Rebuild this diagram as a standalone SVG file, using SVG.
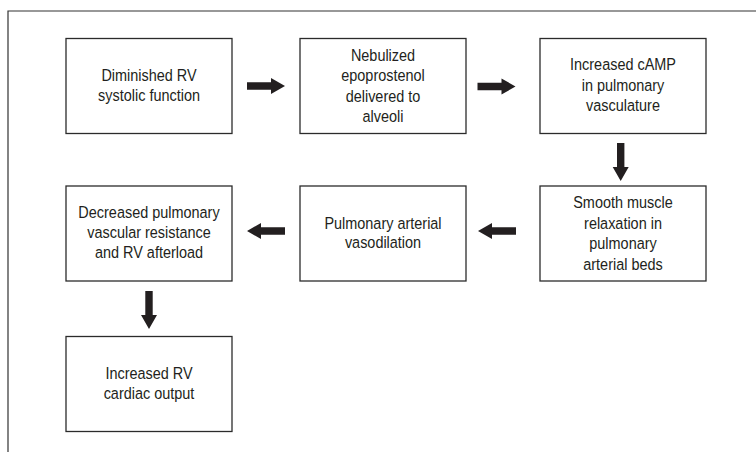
<svg xmlns="http://www.w3.org/2000/svg" width="756" height="452" viewBox="0 0 756 452">
<defs>
<style>
.box{fill:#fff;stroke:#2b2b2b;stroke-width:1.3}
.frame{fill:none;stroke:#333;stroke-width:1.2}
.t{font-family:"Liberation Sans",Arial,sans-serif;font-size:17px;fill:#231f20;text-anchor:middle}
.arr{fill:#231f20}
</style>
<path id="arrow" d="M0,-3.7 L24,-3.7 L24,-8 L38,0 L24,8 L24,3.7 L0,3.7 Z"/>
</defs>
<rect width="756" height="452" fill="#fff"/>
<path class="frame" d="M756,11 L8,11 L8,452"/>
<g id="n1"><rect class="box" x="66" y="38.5" width="166" height="95"/>
<text class="t" transform="translate(149,0) scale(0.85,1)"><tspan x="0" y="81.5">Diminished RV</tspan><tspan x="0" y="101">systolic function</tspan></text></g>
<g id="n2"><rect class="box" x="300" y="38.5" width="166" height="95"/>
<text class="t" transform="translate(383,0) scale(0.85,1)"><tspan x="0" y="60.8">Nebulized</tspan><tspan x="0" y="81.3">epoprostenol</tspan><tspan x="0" y="101.8">delivered to</tspan><tspan x="0" y="122.3">alveoli</tspan></text></g>
<g id="n3"><rect class="box" x="540" y="38.5" width="166" height="95"/>
<text class="t" transform="translate(623,0) scale(0.85,1)"><tspan x="0" y="70.3">Increased cAMP</tspan><tspan x="0" y="90.8">in pulmonary</tspan><tspan x="0" y="111.3">vasculature</tspan></text></g>
<g id="n4"><rect class="box" x="540" y="186" width="166" height="95"/>
<text class="t" transform="translate(623,0) scale(0.85,1)"><tspan x="0" y="208.5">Smooth muscle</tspan><tspan x="0" y="229">relaxation in</tspan><tspan x="0" y="249.5">pulmonary</tspan><tspan x="0" y="270">arterial beds</tspan></text></g>
<g id="n5"><rect class="box" x="300" y="186" width="166" height="95"/>
<text class="t" transform="translate(383,0) scale(0.85,1)"><tspan x="0" y="229">Pulmonary arterial</tspan><tspan x="0" y="248.5">vasodilation</tspan></text></g>
<g id="n6"><rect class="box" x="66" y="186" width="166" height="95"/>
<text class="t" transform="translate(149,0) scale(0.85,1)"><tspan x="0" y="218.5">Decreased pulmonary</tspan><tspan x="0" y="238.5">vascular resistance</tspan><tspan x="0" y="258.5">and RV afterload</tspan></text></g>
<g id="n7"><rect class="box" x="66" y="336.5" width="166" height="95"/>
<text class="t" transform="translate(149,0) scale(0.85,1)"><tspan x="0" y="379.5">Increased RV</tspan><tspan x="0" y="399">cardiac output</tspan></text></g>
<g id="connectors" class="arr">
<use href="#arrow" transform="translate(247,86)"/>
<use href="#arrow" transform="translate(477.5,86.5)"/>
<use href="#arrow" transform="translate(620.7,143) rotate(90)"/>
<use href="#arrow" transform="translate(516,231) rotate(180)"/>
<use href="#arrow" transform="translate(285,231) rotate(180)"/>
<use href="#arrow" transform="translate(149,291) rotate(90)"/>
</g>
</svg>
